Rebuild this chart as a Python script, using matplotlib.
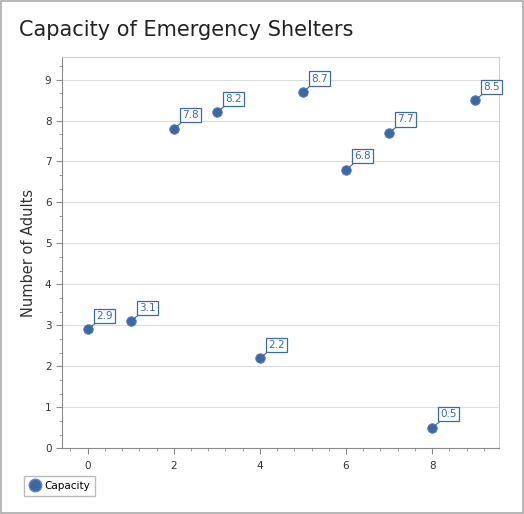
import matplotlib.pyplot as plt
from matplotlib.lines import Line2D
from matplotlib.patches import Rectangle
from matplotlib.ticker import MultipleLocator

shelters = [0, 1, 2, 3, 4, 5, 6, 7, 8, 9]
capacity = [2.9, 3.1, 7.8, 8.2, 2.2, 8.7, 6.8, 7.7, 0.5, 8.5]

BLUE = "#3c68a3"
LABEL_BLUE = "#3a6aa8"
TEXT = "#333333"

plt.rcParams["font.family"] = ["DejaVu Sans"]

fig = plt.figure(figsize=(5.24, 5.14), dpi=100)
ax = fig.add_axes([0.118, 0.128, 0.834, 0.761])

ax.scatter(shelters, capacity, s=48, color=BLUE, edgecolors="#5f86bb", linewidths=0.6, zorder=3)

for x, y in zip(shelters, capacity):
    ax.annotate(
        f"{y}",
        xy=(x, y),
        xytext=(6, 6),
        textcoords="offset points",
        ha="left",
        va="bottom",
        fontsize=7.5,
        color=LABEL_BLUE,
        bbox={"boxstyle": "square,pad=0.2", "fc": "white", "ec": LABEL_BLUE, "lw": 0.9},
        arrowprops={"arrowstyle": "-", "color": LABEL_BLUE, "lw": 0.8, "shrinkA": 0, "shrinkB": 3},
        zorder=4,
    )

ax.set_xlim(-0.6, 9.55)
ax.set_ylim(0, 9.55)
ax.xaxis.set_major_locator(MultipleLocator(2))
ax.xaxis.set_minor_locator(MultipleLocator(0.4))
ax.yaxis.set_major_locator(MultipleLocator(1))
ax.yaxis.set_minor_locator(MultipleLocator(1 / 3))
ax.grid(axis="y", which="major", color="#dddddd", lw=0.8)
ax.set_axisbelow(True)

for side in ("top", "right"):
    ax.spines[side].set_color("#d0d0d0")
for side in ("left", "bottom"):
    ax.spines[side].set_color("#8a8a8a")
ax.tick_params(which="major", length=4, color="#8a8a8a", labelsize=7.5, labelcolor=TEXT)
ax.tick_params(which="minor", length=2, color="#8a8a8a")
ax.tick_params(axis="x", pad=5)

ax.set_ylabel("Number of Adults", fontsize=10.5, color=TEXT, labelpad=6)

fig.text(0.036, 0.942, "Capacity of Emergency Shelters", fontsize=15, color="#222222", ha="left", va="center")

handle = Line2D([], [], marker="o", linestyle="", markersize=9, color=BLUE, markeredgecolor="#5f86bb")
fig.legend(
    [handle],
    ["Capacity"],
    loc="lower left",
    bbox_to_anchor=(0.035, 0.025),
    fontsize=7.5,
    frameon=True,
    fancybox=False,
    edgecolor="#aaaaaa",
    handletextpad=0.3,
    borderpad=0.5,
    handlelength=1.2,
)

fig.patches.append(
    Rectangle((0.001, 0.001), 0.997, 0.997, transform=fig.transFigure, fill=False, ec="#aaaaaa", lw=1.2)
)

fig.savefig("out.png", dpi=100)
